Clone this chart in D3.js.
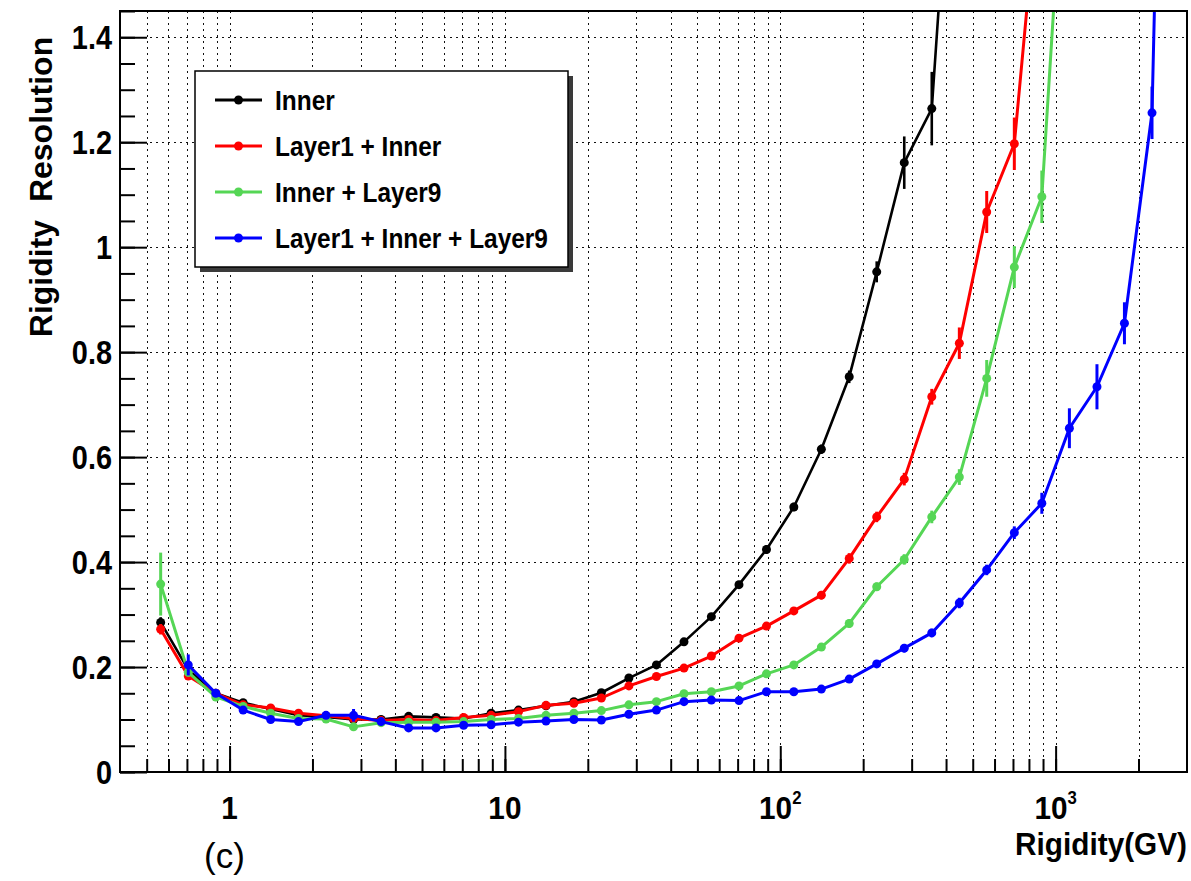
<!DOCTYPE html>
<html>
<head>
<meta charset="utf-8">
<script src="https://cdn.jsdelivr.net/npm/d3@7"></script>
<style>
  body { margin: 0; background: #fff; }
  svg { display: block; }
  text { font-family: "Liberation Sans", Arial, Helvetica, sans-serif; }
</style>
</head>
<body>
<script>
// bin centres (GV)
var xBins = [0.562, 0.708, 0.891, 1.12, 1.41, 1.78, 2.24, 2.82, 3.55, 4.47,
             5.62, 7.08, 8.91, 11.2, 14.1, 17.8, 22.4, 28.2, 35.5, 44.7,
             56.2, 70.8, 89.1, 112, 141, 178, 224, 282, 355, 447,
             562, 708, 891, 1122, 1413, 1778, 2239, 2818];

// Inner
var innerRes = [0.285, 0.195, 0.150, 0.132, 0.120, 0.108, 0.105, 0.100, 0.100, 0.106,
                0.104, 0.102, 0.112, 0.118, 0.126, 0.134, 0.151, 0.179, 0.204, 0.248,
                0.296, 0.357, 0.424, 0.505, 0.615, 0.753, 0.953, 1.161, 1.264, 2.03];
var innerErr = [0.010, 0.006, 0.004, 0.003, 0.003, 0.003, 0.003, 0.003, 0.003, 0.003,
                0.003, 0.003, 0.003, 0.003, 0.003, 0.003, 0.003, 0.004, 0.004, 0.005,
                0.006, 0.007, 0.008, 0.008, 0.009, 0.012, 0.020, 0.050, 0.070, 0.12];

// Layer1 + Inner
var layer1Res = [0.272, 0.183, 0.150, 0.128, 0.122, 0.112, 0.107, 0.102, 0.098, 0.100,
                 0.098, 0.104, 0.108, 0.115, 0.127, 0.131, 0.141, 0.164, 0.182, 0.198,
                 0.221, 0.255, 0.278, 0.307, 0.337, 0.407, 0.486, 0.558, 0.715, 0.817,
                 1.067, 1.197, 1.76];
var layer1Err = [0.010, 0.006, 0.004, 0.003, 0.003, 0.003, 0.003, 0.003, 0.003, 0.003,
                 0.003, 0.003, 0.003, 0.003, 0.003, 0.003, 0.003, 0.004, 0.004, 0.004,
                 0.005, 0.005, 0.006, 0.006, 0.008, 0.010, 0.010, 0.012, 0.015, 0.030,
                 0.040, 0.050, 0.10];

// Inner + Layer9
var layer9Res = [0.358, 0.190, 0.143, 0.125, 0.112, 0.102, 0.101, 0.086, 0.094, 0.095,
                 0.095, 0.096, 0.100, 0.102, 0.108, 0.112, 0.117, 0.128, 0.134, 0.149,
                 0.153, 0.164, 0.187, 0.204, 0.238, 0.283, 0.353, 0.405, 0.486, 0.562,
                 0.750, 0.962, 1.096, 1.93];
var layer9Err = [0.060, 0.008, 0.005, 0.003, 0.003, 0.003, 0.003, 0.004, 0.003, 0.003,
                 0.003, 0.003, 0.003, 0.003, 0.003, 0.003, 0.003, 0.004, 0.004, 0.004,
                 0.005, 0.005, 0.006, 0.006, 0.006, 0.008, 0.008, 0.010, 0.012, 0.015,
                 0.035, 0.040, 0.050, 0.10];

// Layer1 + Inner + Layer9
var fullRes = [null, 0.204, 0.150, 0.118, 0.100, 0.096, 0.108, 0.108, 0.096, 0.084,
               0.084, 0.089, 0.090, 0.095, 0.097, 0.100, 0.099, 0.110, 0.118, 0.134,
               0.137, 0.136, 0.153, 0.153, 0.158, 0.177, 0.206, 0.236, 0.265, 0.322,
               0.385, 0.456, 0.512, 0.655, 0.734, 0.855, 1.256, 3.5];
var fullErr = [null, 0.020, 0.006, 0.004, 0.003, 0.003, 0.006, 0.012, 0.004, 0.003,
               0.003, 0.003, 0.003, 0.003, 0.003, 0.003, 0.003, 0.004, 0.004, 0.004,
               0.005, 0.005, 0.006, 0.006, 0.006, 0.006, 0.007, 0.008, 0.008, 0.010,
               0.010, 0.012, 0.020, 0.038, 0.043, 0.040, 0.050, 0.20];

var seriesNames  = ["Inner", "Layer1 + Inner", "Inner + Layer9", "Layer1 + Inner + Layer9"];
var seriesColors = ["#000000", "#ff0000", "#55d655", "#0000ff"];
var seriesValues = [innerRes, layer1Res, layer9Res, fullRes];
var seriesErrors = [innerErr, layer1Err, layer9Err, fullErr];

var xLabelValues = [1, 10, 100, 1000];
var xLabelBase   = ["1", "10", "10", "10"];
var xLabelExp    = ["", "", "2", "3"];

var W = 1191, H = 881;
var frame = { left: 120, right: 1187, top: 11, bottom: 772 };

var x = d3.scaleLog().domain([0.4, 3000]).range([frame.left, frame.right]);
var y = d3.scaleLinear().domain([0, 1.45]).range([frame.bottom, frame.top]);

var svg = d3.select("body").append("svg").attr("width", W).attr("height", H);
svg.append("rect").attr("width", W).attr("height", H).attr("fill", "#fff");

// stretched bold text helper (the original glyphs are tall and narrow)
function label(g, px, py, str, size, sx, anchor, weight){
  return g.append("text")
    .attr("transform", "translate(" + px + "," + py + ") scale(" + sx + ",1)")
    .attr("font-size", size)
    .attr("font-weight", weight || "bold")
    .attr("text-anchor", anchor || "start")
    .text(str);
}

// Grid
var inner = function(t){ return t > 0.4 && t < 3000; };
var grid = svg.append("g").attr("stroke", "#111").attr("stroke-width", 1)
  .attr("stroke-dasharray", "2,4").attr("shape-rendering", "crispEdges");
grid.selectAll(".gx").data(x.ticks().filter(inner))
  .enter().append("line")
  .attr("x1", function(d){ return Math.round(x(d)) + 0.5; }).attr("x2", function(d){ return Math.round(x(d)) + 0.5; })
  .attr("y1", frame.top).attr("y2", frame.bottom);
grid.selectAll(".gy").data(y.ticks(7).filter(function(t){ return t > 0; }))
  .enter().append("line")
  .attr("y1", function(d){ return Math.round(y(d)) + 0.5; }).attr("y2", function(d){ return Math.round(y(d)) + 0.5; })
  .attr("x1", frame.left).attr("x2", frame.right);

// Ticks (inward)
function tickAxis(axis, tx, ty){
  var g = svg.append("g").attr("transform", "translate(" + tx + "," + ty + ")").call(axis);
  g.select(".domain").remove();
  g.selectAll("line").attr("stroke", "#000").attr("stroke-width", 2);
  return g;
}
tickAxis(d3.axisLeft(y).tickValues(y.ticks(29)).tickSize(-15).tickFormat(""), frame.left, 0);
tickAxis(d3.axisLeft(y).tickValues(y.ticks(7)).tickSize(-27).tickFormat(""), frame.left, 0);
tickAxis(d3.axisBottom(x).tickValues(x.ticks().filter(inner)).tickSize(-13).tickFormat(""), 0, frame.bottom);
tickAxis(d3.axisBottom(x).tickValues(xLabelValues).tickSize(-26).tickFormat(""), 0, frame.bottom);

// Curves
svg.append("clipPath").attr("id", "plotclip").append("rect")
  .attr("x", frame.left).attr("y", frame.top)
  .attr("width", frame.right - frame.left).attr("height", frame.bottom - frame.top);
var plot = svg.append("g").attr("clip-path", "url(#plotclip)");

var line = d3.line().x(function(d){ return x(d.x); }).y(function(d){ return y(d.v); });

seriesNames.forEach(function(name, s){
  var pts = xBins.map(function(b, i){
    return { x: b, v: seriesValues[s][i], e: seriesErrors[s][i] };
  }).filter(function(p){ return p.v != null; });
  var col = seriesColors[s], lw = s === 0 ? 2.6 : 3;
  var g = plot.append("g");
  g.append("path").datum(pts).attr("d", line)
    .attr("fill", "none").attr("stroke", col).attr("stroke-width", lw).attr("stroke-linejoin", "round");
  g.selectAll("line").data(pts).enter().append("line")
    .attr("x1", function(d){ return x(d.x); }).attr("x2", function(d){ return x(d.x); })
    .attr("y1", function(d){ return y(d.v - d.e); }).attr("y2", function(d){ return y(d.v + d.e); })
    .attr("stroke", col).attr("stroke-width", lw);
  g.selectAll("circle").data(pts).enter().append("circle")
    .attr("cx", function(d){ return x(d.x); }).attr("cy", function(d){ return y(d.v); })
    .attr("r", 4.5).attr("fill", col);
});

// Frame
svg.append("rect").attr("x", frame.left).attr("y", frame.top)
  .attr("width", frame.right - frame.left).attr("height", frame.bottom - frame.top)
  .attr("fill", "none").attr("stroke", "#000").attr("stroke-width", 2);

// Legend
var leg = { x: 195, y: 71, w: 373, h: 196 };
svg.append("rect").attr("x", leg.x + 5).attr("y", leg.y + 5).attr("width", leg.w).attr("height", leg.h).attr("fill", "#3a3a3a");
svg.append("rect").attr("x", leg.x).attr("y", leg.y).attr("width", leg.w).attr("height", leg.h)
  .attr("fill", "#fff").attr("stroke", "#000").attr("stroke-width", 1.5);
var rowY = d3.scalePoint().domain(seriesNames).range([100, 238]);
seriesNames.forEach(function(name, s){
  var cy = rowY(name), col = seriesColors[s];
  svg.append("line").attr("x1", 215).attr("x2", 262).attr("y1", cy).attr("y2", cy)
    .attr("stroke", col).attr("stroke-width", 3);
  svg.append("circle").attr("cx", 238.5).attr("cy", cy).attr("r", 4.5).attr("fill", col);
  label(svg, 275, cy + 10, name, 28, 0.873);
});

// Axis labels
var labels = svg.append("g").attr("fill", "#000");
y.ticks(7).forEach(function(t){
  label(labels, 112, y(t) + 12, String(+t.toFixed(1)), 34, 0.85, "end");
});
xLabelValues.forEach(function(v, i){
  var t = label(labels, x(v), 819, xLabelBase[i], 32, 0.93, "middle");
  if(xLabelExp[i]) t.append("tspan").attr("font-size", 18).attr("dy", -15).text(xLabelExp[i]);
});
label(labels, frame.right, 855, "Rigidity(GV)", 31, 0.96, "end");
labels.append("text")
  .attr("transform", "translate(52,187) rotate(-90)")
  .attr("font-size", 32).attr("font-weight", "bold").attr("text-anchor", "middle")
  .attr("xml:space", "preserve")
  .text("Rigidity  Resolution");
label(svg, 204, 868, "(c)", 35, 1, "start", "normal");
</script>
</body>
</html>
